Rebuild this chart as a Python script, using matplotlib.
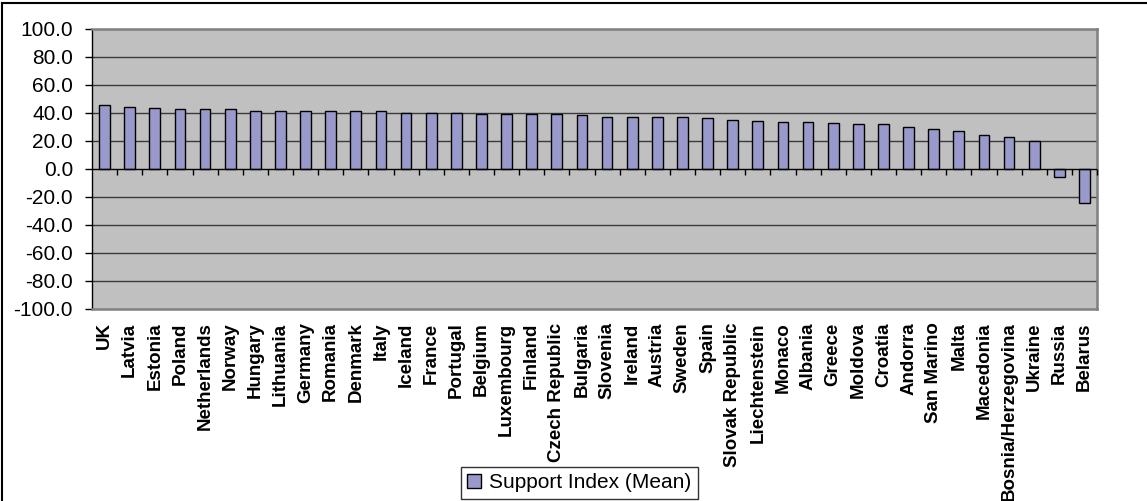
import matplotlib
matplotlib.use("Agg")
import matplotlib.pyplot as plt
from matplotlib.lines import Line2D
import numpy as np

plt.rcParams['font.family'] = ['Liberation Sans', 'DejaVu Sans']
plt.rcParams['axes.unicode_minus'] = False

countries = ["UK", "Latvia", "Estonia", "Poland", "Netherlands", "Norway", "Hungary",
             "Lithuania", "Germany", "Romania", "Denmark", "Italy", "Iceland", "France",
             "Portugal", "Belgium", "Luxembourg", "Finland", "Czech Republic", "Bulgaria",
             "Slovenia", "Ireland", "Austria", "Sweden", "Spain", "Slovak Republic",
             "Liechtenstein", "Monaco", "Albania", "Greece", "Moldova", "Croatia",
             "Andorra", "San Marino", "Malta", "Macedonia", "Bosnia/Herzegovina",
             "Ukraine", "Russia", "Belarus"]
support_mean = [45.9, 44.2, 43.8, 43.1, 42.4, 42.4, 41.6, 41.6, 41.1, 41.1, 41.1, 41.1,
                40.2, 40.2, 39.7, 39.0, 39.0, 39.0, 39.0, 38.3, 37.1, 37.1, 37.1, 37.1,
                36.4, 35.2, 34.0, 33.5, 33.5, 32.8, 32.3, 32.3, 29.7, 28.5, 27.3, 24.2,
                23.0, 19.7, -5.6, -24.2]
y_ticks = [-100, -80, -60, -40, -20, 0, 20, 40, 60, 80, 100]
series_name = "Support Index (Mean)"

W, H = 1147, 501
fig = plt.figure(figsize=(W / 100, H / 100), dpi=100)
ax = fig.add_axes([92 / W, 1 - 308.5 / H, (1097 - 92) / W, (308.5 - 29) / H])
ax.set_facecolor("#c0c0c0")

x = np.arange(len(countries))
ax.bar(x, support_mean, width=0.43, color="#9999cc", edgecolor="black",
       linewidth=1.0, zorder=3, label=series_name)

ax.set_xlim(-0.5, len(countries) - 0.5)
ax.set_ylim(-100, 100)
ax.set_yticks(y_ticks)
ax.set_yticklabels([f"{v:.1f}" for v in y_ticks], fontsize=15)
for v in y_ticks:
    if v not in (-100, 0, 100):
        ax.axhline(v, color="#3a3a3a", linewidth=1.0, zorder=1)

ax.set_xticks(x)
ax.set_xticklabels(countries, rotation=90, fontsize=13.5, fontweight="bold",
                   ha="center", va="top")
ax.tick_params(axis="x", length=0, pad=10)
ax.tick_params(axis="y", length=5, width=1, direction="out", pad=8.6, colors="black")

for side in ("top", "right", "bottom"):
    ax.spines[side].set_color("#808080")
    ax.spines[side].set_linewidth(1.8)
ax.spines["left"].set_color("black")
ax.spines["left"].set_linewidth(1.0)

# category axis crossing at zero, tick marks between categories
ax.axhline(0, color="black", linewidth=1.0, zorder=4)
zero_axis = ax.secondary_xaxis(0.5)
zero_axis.xaxis.set_ticks_position("bottom")
zero_axis.set_xticks(np.arange(0.5, len(countries) - 0.4, 1.0))
zero_axis.set_xticklabels([])
zero_axis.tick_params(axis="x", which="both", top=False, bottom=True,
                      length=4, width=1, direction="out", colors="black")
for s in zero_axis.spines.values():
    s.set_visible(False)
zero_axis.set_zorder(4)

leg = fig.legend(loc="center", bbox_to_anchor=(579.5 / W, 1 - 483 / H),
                 fontsize=15, frameon=True, fancybox=False, shadow=False,
                 handlelength=0.65, handleheight=0.65, handletextpad=0.4,
                 borderpad=0.3, borderaxespad=0)
leg.get_frame().set_edgecolor("black")
leg.get_frame().set_linewidth(1.0)

# outer chart border (top and left edges)
fig.add_artist(Line2D([2 / W, 1], [1 - 3 / H, 1 - 3 / H], transform=fig.transFigure,
                      color="black", linewidth=1.5))
fig.add_artist(Line2D([2 / W, 2 / W], [0, 1 - 3 / H], transform=fig.transFigure,
                      color="black", linewidth=1.5))

fig.savefig("out.png", dpi=100)
